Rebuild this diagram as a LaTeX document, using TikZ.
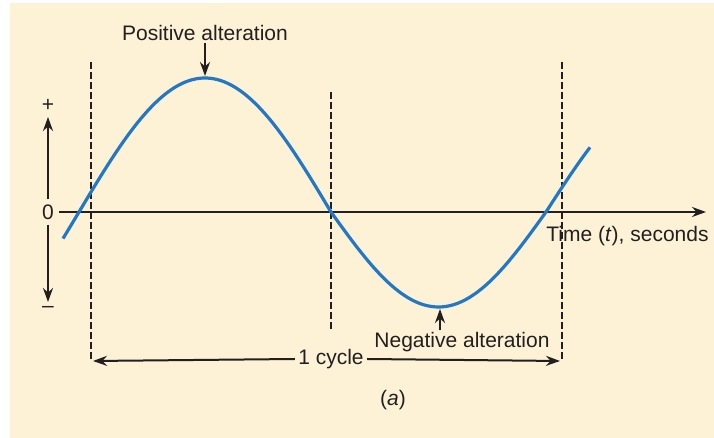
\documentclass[tikz,border=0pt]{standalone}
\usepackage{fontspec}
\setmainfont{Liberation Sans}
\usetikzlibrary{arrows.meta,calc}
\definecolor{bg}{RGB}{253,242,214}
\definecolor{wave}{RGB}{35,120,195}
\definecolor{ink}{RGB}{35,31,32}
\begin{document}
\begin{tikzpicture}[x=0.5pt,y=-0.5pt,
  lbl/.style={font=\fontsize{10.5}{12}\selectfont, text=ink, inner sep=1pt},
  arr/.style={draw=ink, line width=1pt, -{Stealth[length=7pt,width=5pt]}},
  guide/.style={draw=ink, line width=1.1pt, dash pattern=on 3.5pt off 1.5pt},
  wavestyle/.style={draw=wave, line width=1.6pt, line join=round}]
\useasboundingbox (0,0) rectangle (714,438);
\fill[bg] (10,3) rectangle (714,438);

% coordinates
\coordinate (peaktip) at (205,76);
\coordinate (troughtip) at (440,309);
\coordinate (axisend) at (706,212);
\coordinate (uptip) at (48,117);
\coordinate (downtip) at (48,302);
\coordinate (gl1) at (91,62);  \coordinate (gl2) at (91,361);
\coordinate (gm1) at (331,92); \coordinate (gm2) at (331,332);
\coordinate (gr1) at (562,62); \coordinate (gr2) at (562,361);

% labels
\node[lbl, inner sep=2.5pt] (zero) at (48,212) {0};
\node[lbl] (plus) at (48,105) {+};
\node[lbl] (minus) at (48,309) {–};
\node[lbl] (pos) at (205,33) {Positive alteration};
\node[lbl] (neg) at (462,342) {Negative alteration};
\node[lbl, anchor=west] (time) at (544,236) {Time (\textit{t}), seconds};
\node[lbl, fill=bg, inner sep=1.5pt] (cycle) at (331,359) {1 cycle};
\node[lbl] (cap) at (393,400) {(\textit{a})};

% guides
\draw[guide] (gl1) -- (gl2);
\draw[guide] (gm1) -- (gm2);
\draw[guide] (gr1) -- (gr2);

% axes
\draw[arr] (zero.east) -- (axisend);
\draw[arr] (zero.north) -- (uptip);
\draw[arr] (zero.south) -- (downtip);

% wave
\draw[wavestyle]
  plot[domain=63:331, samples=90] (\x,{212-134*sin((\x-79)*0.714286)})
  -- plot[domain=331:546, samples=80] (\x,{212+95*sin((\x-331)*0.837209)})
  -- plot[domain=546:590, samples=20] (\x,{212-124*sin((\x-546)*0.714286)});

% cycle arrows
\draw[arr] (cycle.west) -- ($(gl2)+(2,0)$);
\draw[arr] (cycle.east) -- ($(gr2)+(-2,0)$);

% annotation arrows
\draw[arr] (pos.south) -- (peaktip);
\draw[arr] (neg.north -| troughtip) -- (troughtip);
\end{tikzpicture}
\end{document}
